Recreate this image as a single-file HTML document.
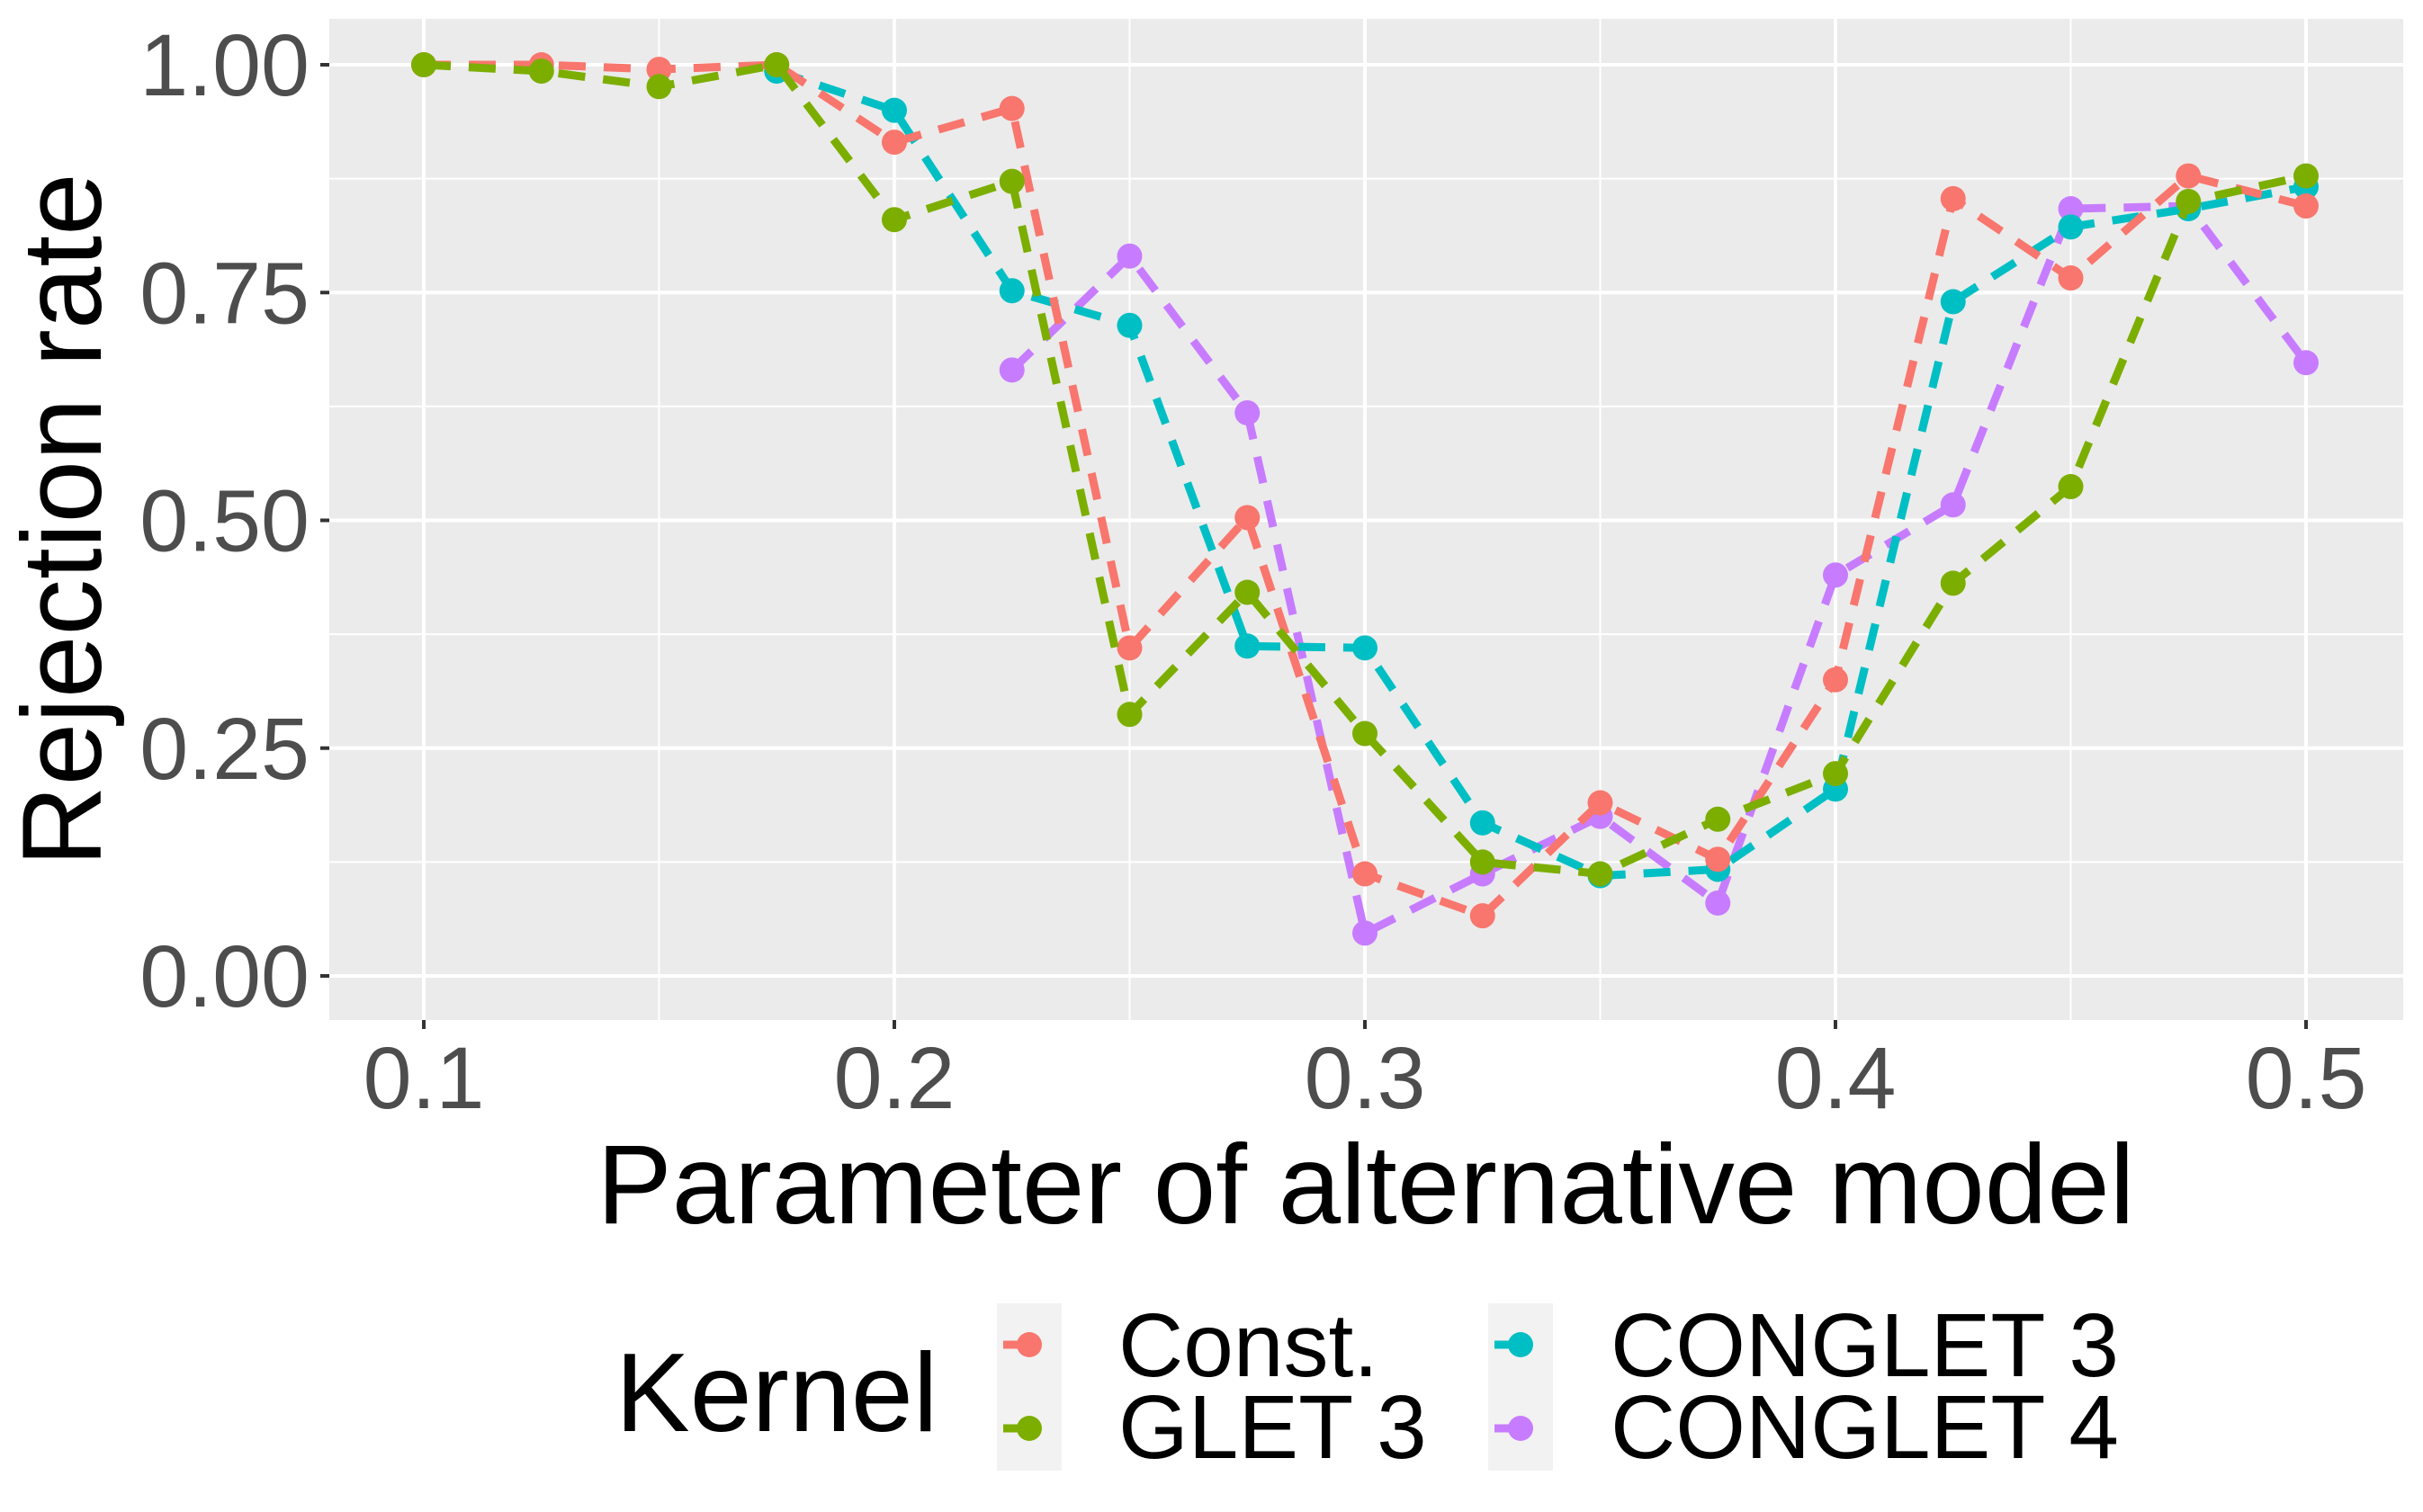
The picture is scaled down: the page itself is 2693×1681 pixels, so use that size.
<!DOCTYPE html>
<html><head><meta charset="utf-8"><style>
html,body{margin:0;padding:0;background:#fff;}
svg{display:block;font-family:"Liberation Sans",Arial,sans-serif;}
</style></head><body>
<svg id="chart" width="2693" height="1681" viewBox="0 0 2693 1681" xmlns="http://www.w3.org/2000/svg">
<rect x="366" y="21" width="2305" height="1113" fill="#EBEBEB"/>
<g id="grid"></g>
<g id="axes"></g>
<g id="series"></g>
<text transform="translate(112,578) rotate(-90)" text-anchor="middle" font-size="125" fill="#000">Rejection rate</text>
<text x="1518" y="1360" text-anchor="middle" font-size="125" fill="#000">Parameter of alternative model</text>
<g>
<text x="684" y="1591" font-size="124" fill="#000">Kernel</text>
<g id="legend-keys"></g>
</g>
</svg>
<script>
const xValues=[0.1,0.125,0.15,0.175,0.2,0.225,0.25,0.275,0.3,0.325,0.35,0.375,0.4,0.425,0.45,0.475,0.5];
const constVals=[1.0,1.0,0.995,1.0,0.915,0.952,0.36,0.503,0.112,0.066,0.19,0.128,0.325,0.853,0.766,0.878,0.845];
const glet3Vals=[1.0,0.993,0.976,1.0,0.83,0.872,0.287,0.421,0.266,0.125,0.112,0.172,0.222,0.431,0.537,0.85,0.878];
const conglet3Vals=[null,null,null,0.993,0.95,0.752,0.714,0.362,0.36,0.168,0.11,0.117,0.205,0.74,0.822,0.842,0.866];
const conglet4Vals=[null,null,null,null,null,0.665,0.79,0.618,0.047,0.112,0.175,0.08,0.44,0.517,0.842,0.845,0.673];
const seriesNames=["Const.","GLET 3","CONGLET 3","CONGLET 4"];
const seriesColors=["#F8766D","#7CAE00","#00BFC4","#C77CFF"];
const xTicks=[0.1,0.2,0.3,0.4,0.5];
const xTickLabels=["0.1","0.2","0.3","0.4","0.5"];
const yTicks=[0,0.25,0.5,0.75,1];
const yTickLabels=["0.00","0.25","0.50","0.75","1.00"];

const NS="http://www.w3.org/2000/svg";
const X0=366,X1=2671,Y0=21,Y1=1134;
function sx(v){return 471+(v-0.1)/(0.4)*(2563-471);}
function sy(v){return 1085-v*(1085-72);}
function mk(tag,attrs,parent){const e=document.createElementNS(NS,tag);for(const k in attrs)e.setAttribute(k,attrs[k]);parent.appendChild(e);return e;}
const grid=document.getElementById('grid'),axes=document.getElementById('axes'),ser=document.getElementById('series');
for(let i=0;i<yTicks.length-1;i++){const m=(yTicks[i]+yTicks[i+1])/2;
const l=mk('line',{x1:X0,x2:X1,y1:sy(m),y2:sy(m),stroke:'#fff','stroke-width':2},grid);

}
for(let i=0;i<xTicks.length-1;i++){const m=(xTicks[i]+xTicks[i+1])/2;
const l=mk('line',{x1:sx(m),x2:sx(m),y1:Y0,y2:Y1,stroke:'#fff','stroke-width':2},grid);

}
yTicks.forEach((t,i)=>{
const l=mk('line',{x1:X0,x2:X1,y1:sy(t),y2:sy(t),stroke:'#fff','stroke-width':4},grid);


const tk=mk('line',{x1:X0-10,x2:X0,y1:sy(t),y2:sy(t),stroke:'#333','stroke-width':4},axes);


const tx=mk('text',{x:X0-22,y:sy(t)+34,'text-anchor':'end','font-size':97,fill:'#4D4D4D'},axes);
tx.textContent=yTickLabels[i];

});
xTicks.forEach((t,i)=>{
const l=mk('line',{x1:sx(t),x2:sx(t),y1:Y0,y2:Y1,stroke:'#fff','stroke-width':4},grid);


const tk=mk('line',{x1:sx(t),x2:sx(t),y1:Y1,y2:Y1+10,stroke:'#333','stroke-width':4},axes);


const tx=mk('text',{x:sx(t),y:1232,'text-anchor':'middle','font-size':97,fill:'#4D4D4D'},axes);
tx.textContent=xTickLabels[i];

});
const allVals=[constVals,glet3Vals,conglet3Vals,conglet4Vals];
const order=[3,2,0,1];
order.forEach(si=>{
const vals=allVals[si],c=seriesColors[si];
const g=mk('g',{},ser);


let d='';let started=false;
vals.forEach((v,i)=>{if(v===null){started=false;return;}d+=(started?'L':'M')+sx(xValues[i]).toFixed(1)+' '+sy(v).toFixed(1)+' ';started=true;});
const p=mk('path',{d:d,fill:'none',stroke:c,'stroke-width':9,'stroke-dasharray':'30 20'},g);


vals.forEach((v,i)=>{if(v===null)return;
const pt=mk('circle',{cx:sx(xValues[i]),cy:sy(v),r:14,fill:c},g);

});
});
const lk=document.getElementById('legend-keys');
const keyPos=[[1108,1449],[1108,1542],[1654,1449],[1654,1542]];
const labPos=[[1243,1530],[1243,1621],[1790,1530],[1790,1621]];
seriesNames.forEach((n,i)=>{
const g=mk('g',{},lk);


const [kx,ky]=keyPos[i];
const r=mk('rect',{x:kx,y:ky,width:72,height:93,fill:'#F2F2F2'},g);


const l=mk('line',{x1:kx+7,x2:kx+36,y1:ky+46,y2:ky+46,stroke:seriesColors[i],'stroke-width':9},g);


const c=mk('circle',{cx:kx+36,cy:ky+46,r:14,fill:seriesColors[i]},g);


const t=mk('text',{x:labPos[i][0],y:labPos[i][1],'font-size':100,fill:'#000'},g);
t.textContent=n;


});
</script>
</body></html>
